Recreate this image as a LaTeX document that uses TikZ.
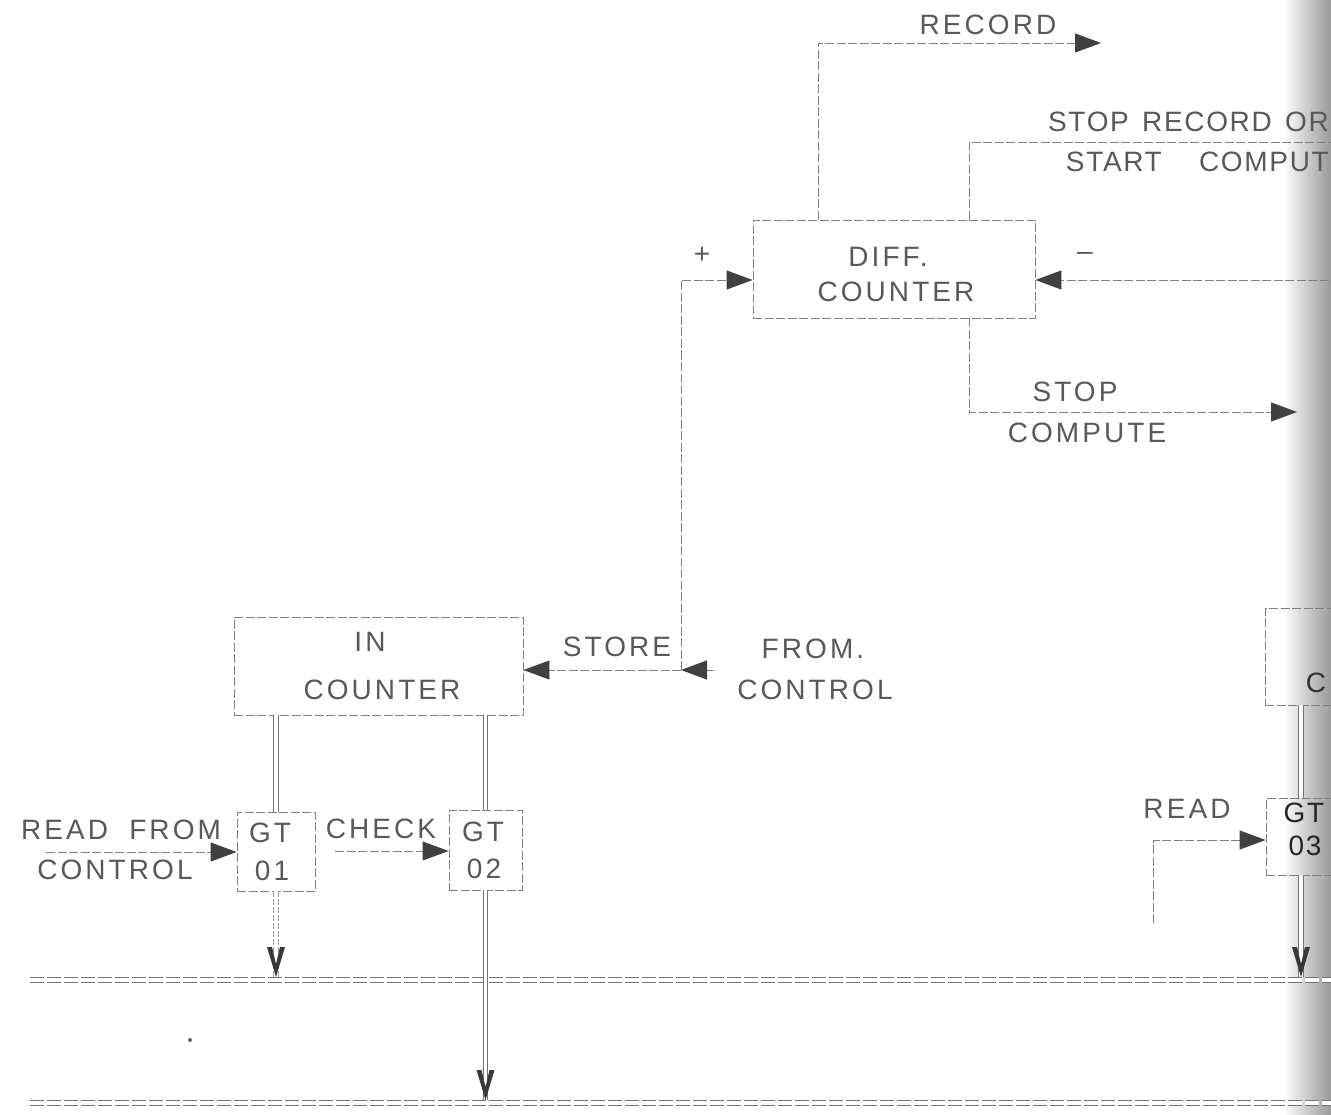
\documentclass[tikz,border=0pt]{standalone}
\usepackage{fontspec}
\newfontfamily\lettering[LetterSpace=11,WordSpace=1.4]{Liberation Sans}
\newfontfamily\letteringN[LetterSpace=6,WordSpace=1.4]{Liberation Sans}
\usetikzlibrary{arrows.meta}
\tikzset{
  lbl/.style={font=\lettering\fontsize{28}{34}\selectfont, text=black!65, inner sep=0pt},
  lbln/.style={font=\letteringN\fontsize{28}{34}\selectfont, text=black!65, inner sep=0pt},
  boxn/.style={draw=black!50, line width=0.9pt, dash pattern=on 9pt off 2.5pt, inner sep=0pt},
  wire/.style={draw=black!50, line width=0.9pt, dash pattern=on 9pt off 2.5pt},
  arr/.style={wire, -{Triangle[length=26pt,width=19pt,color=black!75,fill=black!75]}},
  dbl/.style={draw=black!55, line width=0.8pt, double=white, double distance=3.5pt},
  dbllight/.style={draw=black!35, line width=0.8pt, double=white, double distance=3.5pt, dash pattern=on 6pt off 2pt},
  bus/.style={draw=black!55, line width=1pt, double=white, double distance=4pt, dash pattern=on 14pt off 3pt},
  vtip/.pic={\fill[black!78] (-9,-30) -- (0,0) -- (9,-30) -- (4,-30) -- (0,-13) -- (-4,-30) -- cycle;}
}
\begin{document}
\begin{tikzpicture}[x=1pt,y=-1pt]
\useasboundingbox (0,0) rectangle (1331,1115);
\clip (0,0) rectangle (1331,1115);
\fill[white] (0,0) rectangle (1331,1115);
\shade[left color=white,right color=black!40] (1283,0) rectangle (1331,1115);

% ---- boxes ----
\node[boxn, minimum width=282pt, minimum height=98pt] (diff) at (894,269) {};
\node[lbl] (diffa) at (888,257) {DIFF.};
\node[lbl] (diffb) at (896,292) {COUNTER};

\node[boxn, minimum width=289pt, minimum height=98pt] (inc) at (378.5,666) {};
\node[lbl] (inca) at (370,642) {IN};
\node[lbl] (incb) at (382,690) {COUNTER};

\node[boxn, minimum width=78pt, minimum height=79pt] (gta) at (276,851.5) {};
\node[lbl] (gtaa) at (270,833) {GT};
\node[lbl] (gtab) at (272,871) {01};

\node[boxn, minimum width=73pt, minimum height=80pt] (gtb) at (485.5,850) {};
\node[lbl] (gtba) at (483,832) {GT};
\node[lbl] (gtbb) at (484,869) {02};

\node[boxn, minimum width=96pt, minimum height=97pt] (rbox) at (1313,656.5) {};
\node[lbl, text=black!80] (rboxa) at (1316,683) {C};

\node[boxn, minimum width=70pt, minimum height=77pt] (gtc) at (1301,836.5) {};
\node[lbln, text=black!85] (gtca) at (1304,813) {GT};
\node[lbln, text=black!85] (gtcb) at (1305,846) {03};

% ---- labels ----
\node[lbl] (lrec) at (988,25) {RECORD};
\node[lbln, anchor=east] (lsr1) at (1329,122) {STOP RECORD OR};
\node[lbln, anchor=east] (lsr2) at (1329,162) {START\hspace{24pt} COMPUT};
\node[lbl] (lplus) at (702,255) {+};
\node[lbl] (lminus) at (1085,256) {–};
\node[lbl] (lsc1) at (1075,392) {STOP};
\node[lbl] (lsc2) at (1087,433) {COMPUTE};
\node[lbl] (lstore) at (617,647) {STORE};
\node[lbl] (lfc1) at (813,649) {FROM.};
\node[lbl] (lfc2) at (815,690) {CONTROL};
\node[lbl] (lrf1) at (121,830) {READ\hspace{6pt} FROM};
\node[lbl] (lrf2) at (115,870) {CONTROL};
\node[lbl] (lchk) at (381,829) {CHECK};
\node[lbl] (lread) at (1187,809) {READ};

% ---- connectors ----
\coordinate (recC) at (818,43);
\coordinate (recE) at (1101,43);
\draw[arr] (diff.north -| recC) -- (recC) -- (recE);

\coordinate (srC) at (969,142);
\coordinate (srE) at (1340,142);
\draw[wire] (diff.north -| srC) -- (srC) -- (srE);

\coordinate (scC) at (969,412);
\coordinate (scE) at (1297,412);
\draw[arr] (diff.south -| scC) -- (scC) -- (scE);

\coordinate (minS) at (1340,280);
\draw[arr] (minS) -- (minS -| diff.east);

\coordinate (junc) at (681,670);
\coordinate (plusC) at (681,280);
\draw[arr] (junc) -- (plusC) -- (plusC -| diff.west);
\coordinate (fromS) at (714,670);
\draw[arr] (fromS) -- (junc);
\draw[arr] (junc) -- (junc -| inc.east);

\draw[dbl] (inc.south -| gta.north) -- (gta.north);
\draw[dbl] (inc.south -| gtb.north) -- (gtb.north);
\draw[dbl] (rbox.south -| gtc.north) -- (gtc.north);

\coordinate (rfS) at (46,852);
\draw[arr] (rfS) -- (rfS -| gta.west);
\coordinate (ckS) at (335,851);
\draw[arr] (ckS) -- (ckS -| gtb.west);

\coordinate (rdS) at (1153,923);
\coordinate (rdC) at (1153,840);
\draw[arr] (rdS) -- (rdC) -- (rdC -| gtc.west);

% ---- buses ----
\coordinate (b1L) at (30,980);
\coordinate (b1R) at (1340,980);
\coordinate (b1T) at (30,977);
\coordinate (b2L) at (30,1103);
\coordinate (b2R) at (1340,1103);
\coordinate (b2T) at (30,1100);
\draw[bus] (b1L) -- (b1R);
\draw[bus] (b2L) -- (b2R);

\draw[dbllight] (gta.south) -- (gta.south |- b1T);
\pic at (gta.south |- b1T) {vtip};
\draw[dbl] (gtb.south) -- (gtb.south |- b2T);
\pic at (gtb.south |- b2T) {vtip};
\draw[dbl] (gtc.south) -- (gtc.south |- b1T);
\pic at (gtc.south |- b1T) {vtip};

\fill[black!60] (190,1040) circle (2pt);
\end{tikzpicture}
\end{document}
